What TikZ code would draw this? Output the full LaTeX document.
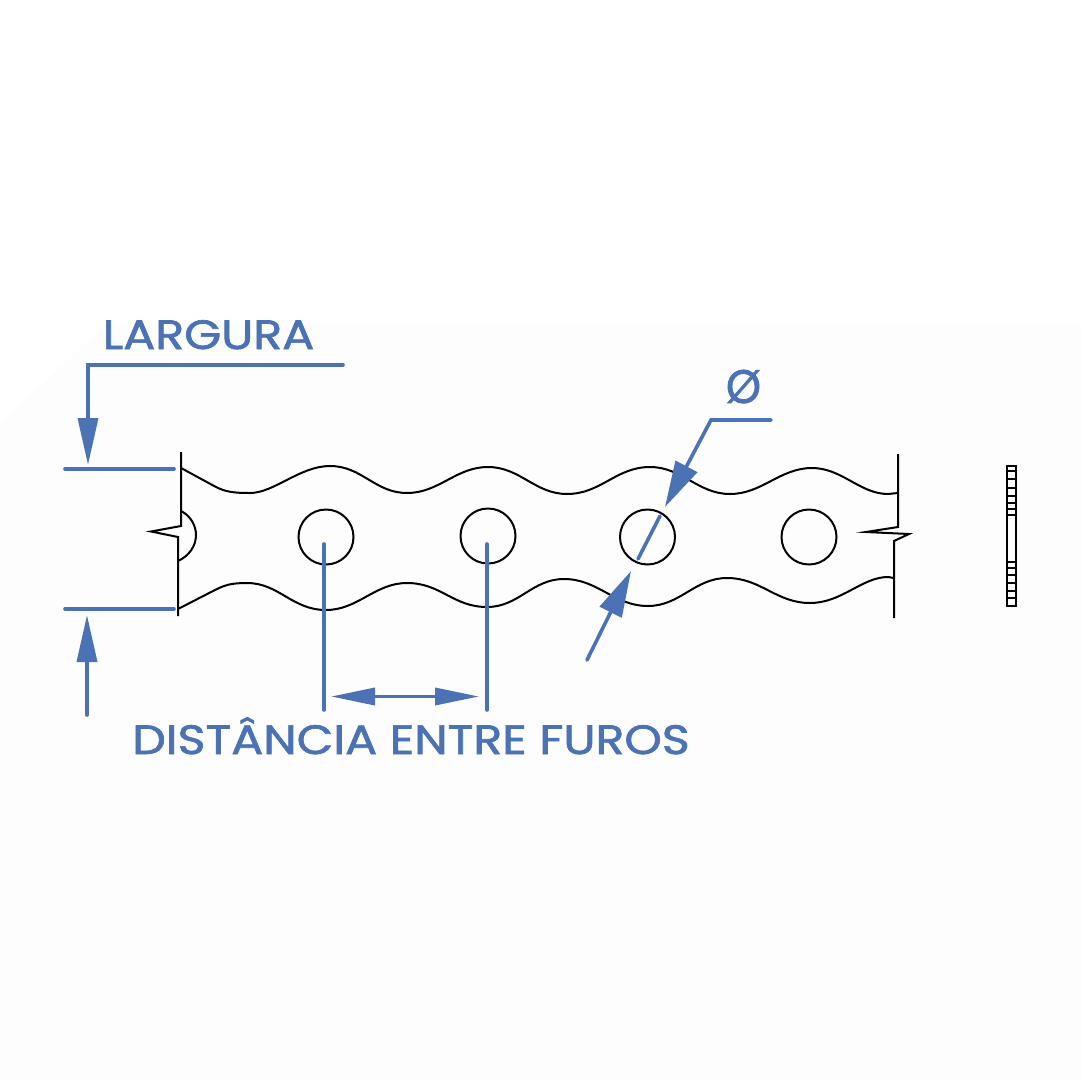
\documentclass[tikz,border=0pt]{standalone}
\usepackage{fontspec}
\setmainfont{Poppins}[FakeBold=1.7,FakeStretch=1.16]
\usetikzlibrary{arrows.meta}
\definecolor{dimblue}{HTML}{4A72B5}
\definecolor{paper}{HTML}{FDFDFD}
\tikzset{
  part/.style={draw=black,line width=2pt,line join=miter},
  hole/.style={circle,draw=black,line width=2pt,minimum size=55pt,inner sep=0pt},
  dimline/.style={draw=dimblue,line width=3.6pt,line cap=round,line join=miter},
  longhead/.style={-{Triangle[length=47pt,width=20pt,fill=dimblue]}},
  widehead/.style={-{Triangle[length=46pt,width=24pt,fill=dimblue]}},
  flathead/.style={{Triangle[length=44pt,width=17pt,fill=dimblue]}-{Triangle[length=44pt,width=17pt,fill=dimblue]}},
  dimtext/.style={text=dimblue,inner sep=0pt,anchor=base}
}
\begin{document}
\begin{tikzpicture}[x=1pt,y=-1pt]
\useasboundingbox (0,0) rectangle (1081,1081);
\fill[white] (0,0) rectangle (1081,1081);
\fill[paper] (0,1081) -- (0,425) -- (105,325) -- (1081,325) -- (1081,1081) -- cycle;

% strip outline
\draw[part] (181,468) -- (216,487) .. controls +(10,5) and +(-16,0) .. (250,493)
  .. controls +(24,0) and +(-30,0) .. (330,466)
  .. controls +(32,0) and +(-32,0) .. (407,493)
  .. controls +(32,0) and +(-32,0) .. (488,467)
  .. controls +(32,0) and +(-32,0) .. (567,494)
  .. controls +(34,0) and +(-34,0) .. (650,467)
  .. controls +(32,0) and +(-32,0) .. (730,494)
  .. controls +(32,0) and +(-32,0) .. (812,468)
  .. controls +(30,0) and +(-28,0) .. (888,494) -- (898,493);
\draw[part] (178,609) -- (215,590) .. controls +(10,-5) and +(-16,0) .. (247,583)
  .. controls +(32,0) and +(-34,0) .. (326,610)
  .. controls +(32,0) and +(-32,0) .. (407,583)
  .. controls +(34,0) and +(-34,0) .. (487,607)
  .. controls +(32,0) and +(-32,0) .. (564,579)
  .. controls +(34,0) and +(-34,0) .. (648,606)
  .. controls +(32,0) and +(-32,0) .. (727,578)
  .. controls +(34,0) and +(-34,0) .. (810,603)
  .. controls +(32,0) and +(-26,0) .. (888,577) -- (894,578);
% break lines
\draw[part] (181,452) -- (181,526) -- (151,531.5) -- (178,537) -- (178,616);
\draw[part] (898,454) -- (898,527) -- (866,532) -- (909,534) -- (894,541) -- (894,618);
% half hole at the break
\draw[part] (181,511) .. controls (191,516) and (196,526) .. (196,535) .. controls (196,546) and (189,556) .. (178,561);
% holes
\node[hole] (h1) at (326,537) {};
\node[hole] (h2) at (488,536) {};
\node[hole] (h3) at (647.5,537) {};
\node[hole] (h4) at (809,537) {};
% side view
\draw[part,line width=1.6pt] (1007,466) rectangle (1016,606);
\foreach \yy in {471,479,488,496,503,509,515,562,568,575,583,591,598}
  \draw[black,line width=1.6pt] (1007,\yy) -- (1016,\yy);

% dimension coordinates
\coordinate (lA) at (343,365);
\coordinate (lB) at (88,365);
\coordinate (lC) at (88,465);
\coordinate (e1a) at (65,469);
\coordinate (e1b) at (174,469);
\coordinate (e2a) at (65,609);
\coordinate (e2b) at (174,609);
\coordinate (lD) at (87,715);
\coordinate (lE) at (87,615);
\coordinate (v1a) at (324,544);
\coordinate (v1b) at (324,710);
\coordinate (v2a) at (487,544);
\coordinate (v2b) at (487,710);
\coordinate (dA) at (331,696.5);
\coordinate (dB) at (479,696.5);
\coordinate (pA) at (771,420);
\coordinate (pB) at (711,420);
\coordinate (pC) at (665,507);
\coordinate (qA) at (660,516);
\coordinate (qB) at (638,559);
\coordinate (rA) at (587,660);
\coordinate (rB) at (631,571);

\draw[dimline] (e1a) -- (e1b);
\draw[dimline] (e2a) -- (e2b);
\draw[dimline,longhead] (lA) -- (lB) -- (lC);
\draw[dimline,longhead] (lD) -- (lE);
\draw[dimline] (v1a) -- (v1b);
\draw[dimline] (v2a) -- (v2b);
\draw[dimline,flathead] (dA) -- (dB);
\draw[dimline,widehead] (pA) -- (pB) -- (pC);
\draw[dimline] (qA) -- (qB);
\draw[dimline,widehead] (rA) -- (rB);

% labels
\node[dimtext,font=\fontsize{41}{41}\selectfont] (t1) at (208.5,349) {LARGURA};
\node[dimtext,font=\fontsize{41}{41}\selectfont] (t2) at (411,754) {DISTÂNCIA ENTRE FUROS};
\node[dimtext,xscale=.82,font=\fontsize{47}{47}\selectfont] (t3) at (743.5,403) {Ø};
\end{tikzpicture}
\end{document}
